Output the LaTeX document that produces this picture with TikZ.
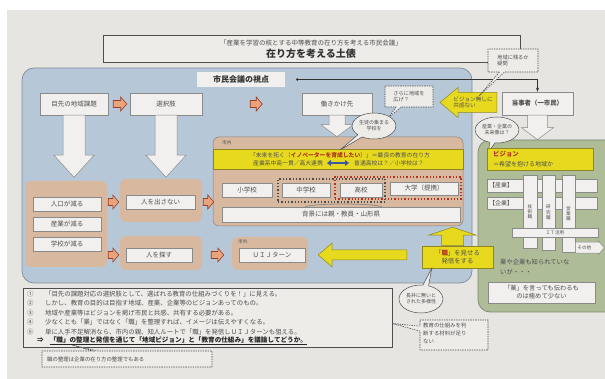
\documentclass[tikz,border=0pt]{standalone}
\usepackage{fontspec}
\setmainfont{Noto Sans CJK JP}
\XeTeXlinebreaklocale "ja"
\usetikzlibrary{calc,fit,shapes.callouts,shapes.geometric,arrows.meta}
\definecolor{bgc}{HTML}{E6E5E1}
\definecolor{paper}{HTML}{EDECE9}
\definecolor{bluef}{HTML}{B6C8D8}
\definecolor{bluel}{HTML}{7E8C9A}
\definecolor{tanf}{HTML}{D8B89E}
\definecolor{greenf}{HTML}{AEBC98}
\definecolor{greenl}{HTML}{7C8869}
\definecolor{yelf}{HTML}{E7DA1E}
\definecolor{yell}{HTML}{8E8624}
\definecolor{boxf}{HTML}{F1F0EE}
\definecolor{boxl}{HTML}{8A8A8A}
\definecolor{txt}{HTML}{4E4E4E}
\definecolor{orf}{HTML}{E9A47C}
\definecolor{orl}{HTML}{9A3E2A}
\definecolor{redt}{HTML}{B0321F}
\definecolor{arrblue}{HTML}{3E5A9E}
\newcommand\fsz[2]{\fontsize{#1}{#2}\selectfont}
\newcommand\fatarrow[6][]{%
  \path[#1] let \p1=(#2), \p2=(#3), \n1={atan2(\y2-\y1,\x2-\x1)}, \n2={veclen(\x2-\x1,\y2-\y1)-#6} in
  ([shift={(\p1)},rotate=\n1]0,#4) -- ([shift={(\p1)},rotate=\n1]\n2,#4) --
  ([shift={(\p1)},rotate=\n1]\n2,#5) -- (\p2) -- ([shift={(\p1)},rotate=\n1]\n2,-#5) --
  ([shift={(\p1)},rotate=\n1]\n2,-#4) -- ([shift={(\p1)},rotate=\n1]0,-#4) -- cycle;}
\begin{document}
\begin{tikzpicture}[x=1pt,y=-1pt,
  every node/.style={text=txt},
  box/.style={draw=boxl, fill=boxf, line width=0.5pt, inner sep=0pt, align=center, font=\fsz{6.5}{7.8}},
  tanbox/.style={fill=tanf, rounded corners=6pt, inner sep=0pt},
  yelbox/.style={draw=yell, fill=yelf, line width=0.5pt, inner sep=0pt, align=center, font=\fsz{6.4}{8}},
  bubble/.style={ellipse callout, draw=txt, fill=paper, line width=0.5pt, inner sep=0.5pt, align=center, font=\fsz{5}{6}},
  dbubble/.style={rectangle callout, draw=txt, dash pattern=on 1.4pt off 1pt, fill=paper, line width=0.6pt, inner sep=0pt, callout pointer width=5pt, align=left, font=\fsz{5.2}{6.5}},
  whitearrow/.style={draw=boxl, fill=boxf, line width=0.5pt},
  orangearrow/.style={draw=orl, fill=orf, line width=0.6pt},
  yelarrow/.style={draw=yell, fill=yelf, line width=0.5pt},
  small/.style={font=\fsz{4.6}{5.5}},
  lst/.style={anchor=west, inner sep=0pt, font=\fsz{6.4}{7}}]
\useasboundingbox (0,0) rectangle (605,379);
\clip (0,0) rectangle (605,379);
\fill[white] (0,0) rectangle (605,379);
\fill[bgc] (7,10) rectangle (605,379);

% title
\node[draw=txt, line width=0.6pt, fill=paper, inner sep=0pt, fit={(103,35)(520,62)}] (title) {};
\node[font=\fsz{6.5}{7}, inner sep=0pt] (t1) at (311,43) {「産業を学習の核とする中等教育の在り方を考える市民会議」};
\node[font=\bfseries\fsz{10}{11}, inner sep=0pt, text=black!80] (t2) at (311,54) {在り方を考える土俵};

% main regions
\node[fill=bluef, draw=bluel, line width=0.7pt, rounded corners=12pt, inner sep=0pt, fit={(22,68)(472,283)}] (shimin) {};
\node[fill=greenf, draw=greenl, line width=0.7pt, rounded corners=12pt, inner sep=0pt, fit={(478,140)(640,312)}] (green) {};

\node[fill=boxf, inner sep=0pt, fit={(197,72)(285,87)}] (viewlbl) {};
\node[inner sep=0pt, font=\bfseries\fsz{8}{9}, text=black!80] (viewtxt) at (viewlbl.center) {市民会議の視点};

% top row
\node[box, fit={(40,93)(108,115)}] (mesaki) {};
\node[box, draw=none, fill=none] at (mesaki.center) {目先の地域課題};
\node[box, fit={(130,93)(202,115)}] (sentaku) {};
\node[box, draw=none, fill=none] at (sentaku.center) {選択肢};
\node[box, fit={(302,93)(372,115)}] (hataraki) {};
\node[box, draw=none, fill=none] at (hataraki.center) {働きかけ先};
\node[box, fit={(502,92)(573,115)}] (tojisha) {};
\node[box, draw=none, fill=none, font=\bfseries\fsz{6.4}{7.5}] at (tojisha.center) {当事者（一市民）};

\coordinate (dotc) at ($(viewlbl.east)+(12,0)$);
\fill[black!80] (dotc) circle (1.3pt);
\draw[black!80, line width=0.6pt, -{Stealth[length=4pt,width=3pt]}] (dotc) -| (tojisha.north);

% left tan boxes
\node[tanbox, fit={(25,181)(107,267)}] (tanL) {};
\node[box, fit={(33,197)(101,211)}] (jinko) {};
\node[box, draw=none, fill=none] at (jinko.center) {人口が減る};
\node[box, fit={(33,217)(101,231)}] (sangyo) {};
\node[box, draw=none, fill=none] at (sangyo.center) {産業が減る};
\node[box, fit={(33,237)(101,251)}] (gakko) {};
\node[box, draw=none, fill=none] at (gakko.center) {学校が減る};

\node[tanbox, fit={(120,179)(202,222)}] (tanA) {};
\node[box, fit={(126,195)(195,209)}] (dasanai) {};
\node[box, draw=none, fill=none] at (dasanai.center) {人を出さない};
\node[tanbox, fit={(120,236)(202,270)}] (tanB) {};
\node[box, fit={(126,248)(192,262)}] (sagasu) {};
\node[box, draw=none, fill=none] at (sagasu.center) {人を探す};
\node[tanbox, fit={(232,237)(308,270)}] (tanC) {};
\node[small, anchor=west, inner sep=0pt] (shigai) at (238,242) {市外};
\node[box, fit={(239,248)(305,262)}] (uij) {};
\node[box, draw=none, fill=none] at (uij.center) {ＵＩＪターン};

% shinai
\node[tanbox, draw=txt!70, line width=0.5pt, fit={(213,137)(463,226)}] (shinai) {};
\node[small, anchor=west, inner sep=0pt] (shinailbl) at (222,143) {市内};
\node[fill=yelf, draw=yell, line width=0.4pt, inner sep=0pt, fit={(213,149)(463,169)}] (band) {};
\node[font=\fsz{5.8}{6}, inner sep=0pt] (bl1) at (340,155) {「未来を拓く（{\bfseries\color{redt}イノベーターを育成したい}）」＝最良の教育の在り方};
\node[font=\fsz{5.8}{6}, inner sep=0pt, anchor=east] (bl2a) at (323,163) {産業系中高一貫／高大連携};
\node[font=\fsz{5.8}{6}, inner sep=0pt, anchor=west] (bl2b) at (354,163) {普通高校は？／小学校は？};
\draw[arrblue, line width=2pt, {Triangle[length=4pt,width=6pt]}-{Triangle[length=4pt,width=6pt]}] ($(bl2a.east)+(4,0)$) -- ($(bl2b.west)+(-5,0)$);

\node[box, fit={(222,183)(272,197)}] (sho) {};
\node[box, draw=none, fill=none] at (sho.center) {小学校};
\node[box, fit={(282,183)(330,197)}] (chu) {};
\node[box, draw=none, fill=none] at (chu.center) {中学校};
\node[box, fit={(340,183)(382,197)}] (ko) {};
\node[box, draw=none, fill=none] at (ko.center) {高校};
\node[box, fit={(390,182)(458,195)}] (dai) {};
\node[box, draw=none, fill=none] at (dai.center) {大学（提携）};
\node[draw=black!70, dotted, line width=1.3pt, inner sep=0pt, fit={(278,179)(385,202)}] (grpA) {};
\node[draw=redt, dotted, line width=1.3pt, inner sep=0pt, fit={(335,177)(461,199)}] (grpB) {};
\draw[black!45, line width=0.8pt] (305,207) .. controls (312,203) and (375,203) .. (382,207);
\node[box, fit={(222,207)(460,222)}] (haikei) {};
\node[box, draw=none, fill=none] at (haikei.center) {背景には親・教員・山形県};

% big arrows
\fatarrow[whitearrow]{mesaki.south}{$(mesaki.south)+(0,62)$}{11}{20}{22}
\fatarrow[whitearrow]{sentaku.south}{$(sentaku.south)+(0,62)$}{11}{20}{22}
\fatarrow[whitearrow]{hataraki.south}{hataraki.south |- shinai.north}{8}{16}{12}
\fatarrow[whitearrow]{tojisha.south}{tojisha.south |- green.north}{10}{16}{12}

% orange arrows
\fatarrow[orangearrow]{$(mesaki.east)+(5,0)$}{$(sentaku.west)+(-3,0)$}{3.5}{7}{6}
\fatarrow[orangearrow]{$(sentaku.east)+(48,0)$}{$(sentaku.east)+(60,0)$}{3.5}{7}{6}
\fatarrow[orangearrow]{$(tanL.east |- dasanai.west)+(1,0)$}{$(tanA.west |- dasanai.west)+(-1,0)$}{3.5}{7}{6}
\fatarrow[orangearrow]{$(tanA.east |- dasanai.west)+(1,0)$}{$(shinai.west |- dasanai.west)+(1,0)$}{3.5}{7}{6}
\fatarrow[orangearrow]{$(tanL.east |- sagasu.west)+(1,0)$}{$(tanB.west |- sagasu.west)+(-1,0)$}{3.5}{7}{6}
\fatarrow[orangearrow]{$(tanB.east |- sagasu.west)+(9,0)$}{$(tanC.west |- sagasu.west)+(-8,0)$}{3.5}{7}{6}

% shoku box and yellow arrows
\node[yelbox, fit={(422,246)(493,268)}] (shoku) {};
\node[yelbox, draw=none, fill=none] at (shoku.center) {「{\bfseries\color{redt}職}」を見せる\\発信をする};
\fatarrow[yelarrow]{$(shoku.west)+(-15,-2)$}{$(tanC.east |- shoku.west)+(10,-2)$}{5}{12}{14}
\coordinate (upS) at ($(shoku.north)+(-5,0)$);
\coordinate (upT) at (upS |- shinai.south);
\fatarrow[yelarrow]{upS}{$(upT)+(0,1)$}{11}{24}{8}
\coordinate (vaS) at ($(tojisha.west)+(-5,-1)$);
\coordinate (vaT) at (440,102.5);
\fatarrow[yelarrow]{vaS}{vaT}{10}{15}{18}
\node[font=\fsz{5.6}{6.5}, align=left, inner sep=0pt] (vatext) at (473,102.5) {ビジョン無しに\\共感ない};

% bubbles
\node[dbubble, fit={(385,86)(433,107)}, callout absolute pointer={(388,118)}] (sarani) {};
\node[font=\fsz{5.2}{6.5}, align=left, inner sep=0pt] at (sarani.center) {さらに地域を\\広げ？};
\node[dbubble, fit={(488,49)(538,72)}, callout absolute pointer={(479,96)}] (nokoru) {};
\node[font=\fsz{5.2}{6.5}, align=left, inner sep=0pt] at (nokoru.center) {地域に残るか\\疑問};
\node[bubble, minimum width=42pt, minimum height=26pt, callout absolute pointer={(340,150)}] (seito) at (374,126) {生徒の集まる\\学校を};
\node[bubble, minimum width=42pt, minimum height=26pt, callout absolute pointer={(489,151)}] (mirai) at (497,130) {産業・企業の\\未来像は？};
\node[bubble, minimum width=44pt, minimum height=28pt, callout absolute pointer={($(shoku.south west)+(10,0)$)}] (nagai) at (421,299) {長井に無いと\\された多様性};

% green internals
\node[yelbox, fit={(487,148)(593,170)}] (vision) {};
\node[font=\bfseries\fsz{6.4}{7}, text=redt, anchor=west, inner sep=0pt] (vt1) at (493,154) {ビジョン};
\node[font=\fsz{6}{7}, anchor=west, inner sep=0pt] (vt2) at (493,164) {＝希望を抱ける地域か};
\node[box, fit={(487,179)(597,192)}] (sangyoG) {};
\node[font=\fsz{6}{7}, anchor=west, inner sep=0pt] at (489,185.5) {【産業】};
\node[box, fit={(487,197)(597,209)}] (kigyoG) {};
\node[font=\fsz{6}{7}, anchor=west, inner sep=0pt] at (489,203) {【企業】};
\node[box, fit={(523,175)(537,248)}] (bar1) {};
\node[box, draw=none, fill=none, font=\fsz{4.6}{5.2}] at (bar1.center) {技\\術\\職};
\node[box, fit={(542,175)(555,250)}] (bar2) {};
\node[box, draw=none, fill=none, font=\fsz{4.6}{5.2}] at (bar2.center) {研\\究\\職};
\node[box, fit={(562,175)(575,252)}] (bar3) {};
\node[box, draw=none, fill=none, font=\fsz{4.6}{5.2}] at (bar3.center) {営\\業\\職};
\node[box, fit={(512,228)(598,237)}] (itbar) {};
\node[box, draw=none, fill=none, font=\fsz{4.6}{5.2}] at (itbar.center) {ＩＴ活用};
\coordinate (so1) at ($(bar3.east |- itbar.south)+(0,10.5)$);
\coordinate (so2) at ($(so1)+(29,0)$);
\fatarrow[whitearrow]{so1}{so2}{5.5}{7}{6}
\node[small, inner sep=0pt, anchor=west] at ($(so1)+(2,0)$) {その他};
\node[font=\fsz{6.3}{10}, align=left, anchor=north west, inner sep=0pt] (gyo) at (500,259) {業や企業も知られていな\\いが・・・};
\node[box, fit={(488,282)(595,303)}] (gyobox) {};
\node[box, draw=none, fill=none, font=\fsz{6.3}{8}] at (gyobox.center) {「業」を言っても伝わるも\\のは極めて少ない};

% list
\node[draw=txt, line width=0.6pt, fill=paper, inner sep=0pt, fit={(23,288)(392,347)}] (list) {};
\node[lst] (l1) at (27,294) {\makebox[18pt][l]{①}「目先の課題対応の選択肢として、選ばれる教育の仕組みづくりを！」に見える。};
\node[lst] (l2) at (27,303.5) {\makebox[18pt][l]{②}しかし、教育の目的は目指す地域、産業、企業等のビジョンあってのもの。};
\node[lst] (l3) at (27,313) {\makebox[18pt][l]{③}地域や産業等はビジョンを掲げ市民と共感、共有する必要がある。};
\node[lst] (l4) at (27,322.5) {\makebox[18pt][l]{④}少なくとも「業」ではなく「職」を整理すれば、イメージは伝えやすくなる。};
\node[lst] (l5) at (27,332) {\makebox[18pt][l]{⑤}単に人手不足解消なら、市内の親、知人ルートで「職」を発信しＵＩＪターンも狙える。};
\node[lst, font=\bfseries\fsz{6.6}{7}, text=black!85] (l6) at (37,341) {⇒\hspace{6pt}\underline{「職」の整理と発信を通じて「地域ビジョン」と「教育の仕組み」を議論してどうか。}};

\node[dbubble, fit={(42,351)(212,367)}, callout absolute pointer={(72,345)}] (seiri) {};
\node[font=\fsz{5.4}{6}, anchor=west, inner sep=0pt] at (47,359) {職の整理は企業の在り方の整理でもある};
\node[dbubble, fit={(420,320)(488,350)}, callout absolute pointer={($(list.east)+(0,6)$)}] (zairyo) {};
\node[font=\fsz{5.4}{8}, align=left, anchor=north west, inner sep=0pt] at (423,323) {教育の仕組みを判\\断する材料が足り\\ない};
\end{tikzpicture}
\end{document}
